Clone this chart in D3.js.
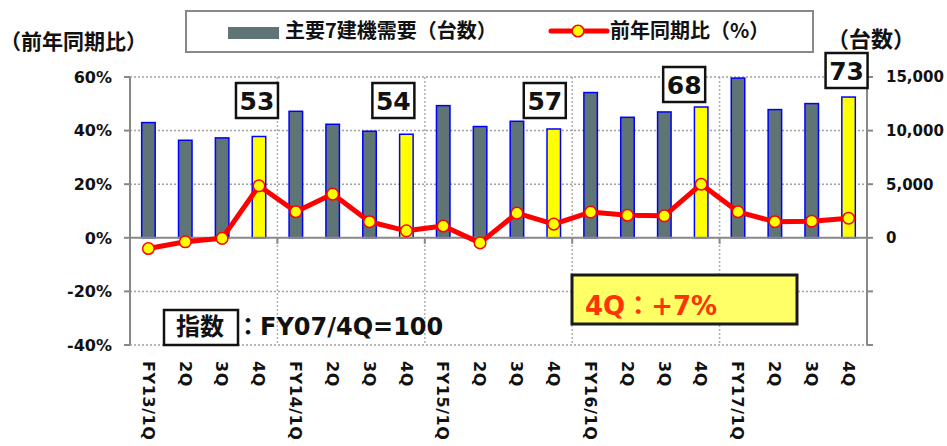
<!DOCTYPE html>
<html>
<head>
<meta charset="utf-8">
<script src="https://d3js.org/d3.v7.min.js"></script>
<style>
  body { margin: 0; background: #fff; }
  svg { display: block; }
</style>
</head>
<body>
<svg id="chart" width="947" height="446"></svg>
<script>
// quarterly demand for the 7 main construction machines + yoy change

var quarters = ["FY13/1Q","2Q","3Q","4Q","FY14/1Q","2Q ","3Q ","4Q ","FY15/1Q","2Q  ","3Q  ","4Q  ",
                "FY16/1Q","2Q   ","3Q   ","4Q   ","FY17/1Q","2Q    ","3Q    ","4Q    "];
var units = [10750, 9100, 9320, 9450, 11800, 10590, 9940, 9660, 12330, 10380, 10870, 10150,
             13550, 11240, 11740, 12200, 14900, 11960, 12520, 13130];
var yoy = [-4.0, -1.5, -0.2, 19.4, 9.7, 16.3, 6.0, 2.6, 4.4, -1.9, 9.2, 5.1,
           9.6, 8.4, 8.2, 20.0, 9.7, 6.0, 6.2, 7.3];
var indexLabels = ["53", "54", "57", "68", "73"];   // sits over each 4Q bar
var leftTicks = [-40, -20, 0, 20, 40, 60];
var rightTicks = [-10000, -5000, 0, 5000, 10000, 15000];

// hard coded layout
var plot = { left: 130, right: 867, top: 77, bottom: 345 };
var barCol = "#5f7474";
var latin = "'DejaVu Sans', 'Noto Sans CJK JP', sans-serif";
var cjk = "'Noto Sans CJK JP', sans-serif";
var boxPos = [ { dx: -2, top: 83 }, { dx: -13, top: 83 }, { dx: -9, top: 83 },
               { dx: -17, top: 67 }, { dx: -2, top: 53 } ];

var svg = d3.select("#chart");

var x = d3.scaleBand().domain(quarters).range([plot.left, plot.right]).padding(0);
var yL = d3.scaleLinear().domain([-40, 60]).range([plot.bottom, plot.top]);
var yR = d3.scaleLinear().domain([-10000, 15000]).range([plot.bottom, plot.top]);
var cx = function(i) { return x(quarters[i]) + x.bandwidth()/2; };

// dotted grid lines
leftTicks.filter(function(t) { return t != 0; }).forEach(function(t) {
        svg.append("line")
                .attr("x1", plot.left).attr("x2", plot.right)
                .attr("y1", yL(t)).attr("y2", yL(t))
                .attr("stroke", "#a0a0a0").attr("stroke-width", 1.5)
                .attr("stroke-dasharray", "2,2");
});
[4, 8, 12, 16].forEach(function(i) {
        svg.append("line")
                .attr("x1", x(quarters[i])).attr("x2", x(quarters[i]))
                .attr("y1", plot.top).attr("y2", plot.bottom)
                .attr("stroke", "#b0b0b0").attr("stroke-width", 1.5)
                .attr("stroke-dasharray", "2,2");
});

// bars
svg.selectAll(".bar").data(units).enter().append("rect")
        .attr("class", "bar")
        .attr("x", function(d, i) { return cx(i) - 6.75; })
        .attr("y", function(d) { return yR(d); })
        .attr("width", 13.5)
        .attr("height", function(d) { return yR(0) - yR(d); })
        .attr("fill", function(d, i) { return i % 4 == 3 ? "#ffff00" : barCol; })
        .attr("stroke", "#0000ff")
        .attr("stroke-width", 1.5);

// axes
var axisCol = "#888888";
svg.append("line").attr("x1", plot.left).attr("x2", plot.right)
        .attr("y1", yL(0)).attr("y2", yL(0))
        .attr("stroke", axisCol).attr("stroke-width", 2);
svg.append("line").attr("x1", plot.left).attr("x2", plot.left)
        .attr("y1", plot.top).attr("y2", plot.bottom)
        .attr("stroke", axisCol).attr("stroke-width", 2);
svg.append("line").attr("x1", plot.right).attr("x2", plot.right)
        .attr("y1", plot.top).attr("y2", plot.bottom)
        .attr("stroke", axisCol).attr("stroke-width", 2);

leftTicks.forEach(function(t) {
        svg.append("line").attr("x1", plot.left - 6).attr("x2", plot.left)
                .attr("y1", yL(t)).attr("y2", yL(t))
                .attr("stroke", axisCol).attr("stroke-width", 2);
        svg.append("text")
                .attr("x", 112).attr("y", yL(t))
                .attr("dy", "0.36em")
                .attr("text-anchor", "end")
                .attr("font-family", latin).attr("font-weight", "bold")
                .attr("font-size", "16px").attr("fill", "#111")
                .text(t + "%");
});
rightTicks.forEach(function(t) {
        svg.append("line").attr("x1", plot.right).attr("x2", plot.right + 6)
                .attr("y1", yR(t)).attr("y2", yR(t))
                .attr("stroke", axisCol).attr("stroke-width", 2);
        if(t >= 0)
                svg.append("text")
                        .attr("x", 886).attr("y", yR(t))
                        .attr("dy", "0.36em")
                        .attr("font-family", latin).attr("font-weight", "bold")
                        .attr("font-size", "15px").attr("fill", "#111")
                        .text(d3.format(",")(t));
});
[4, 8, 12, 16].forEach(function(i) {
        svg.append("line").attr("x1", x(quarters[i])).attr("x2", x(quarters[i]))
                .attr("y1", yL(0)).attr("y2", yL(0) + 6)
                .attr("stroke", axisCol).attr("stroke-width", 2);
});

// category labels, rotated to read downward
quarters.forEach(function(q, i) {
        svg.append("text")
                .attr("transform", "translate(" + cx(i) + ",361) rotate(90)")
                .attr("dy", "0.36em")
                .attr("font-family", latin).attr("font-weight", "bold")
                .attr("font-size", "16px").attr("fill", "#111")
                .attr("letter-spacing", "0.6px")
                .text(q.trim());
});

// yoy line
var line = d3.line().x(function(d, i) { return cx(i); }).y(function(d) { return yL(d); });
svg.append("path").datum(yoy)
        .attr("d", line)
        .attr("fill", "none")
        .attr("stroke", "#ff0000")
        .attr("stroke-width", 5)
        .attr("stroke-linejoin", "round");
svg.selectAll(".dot").data(yoy).enter().append("circle")
        .attr("class", "dot")
        .attr("cx", function(d, i) { return cx(i); })
        .attr("cy", function(d) { return yL(d); })
        .attr("r", 5.8)
        .attr("fill", "#ffff00")
        .attr("stroke", "#ff0000")
        .attr("stroke-width", 1.5);

// index boxes over the 4Q bars
indexLabels.forEach(function(lbl, k) {
        var bx = cx(k*4 + 3) + boxPos[k].dx;
        svg.append("rect")
                .attr("x", bx - 21).attr("y", boxPos[k].top)
                .attr("width", 42).attr("height", 35)
                .attr("fill", "#fff").attr("stroke", "#111").attr("stroke-width", 2.5);
        svg.append("text")
                .attr("x", bx).attr("y", boxPos[k].top + 17.5)
                .attr("dy", "0.36em").attr("text-anchor", "middle")
                .attr("font-family", latin).attr("font-weight", "bold")
                .attr("font-size", "25px").attr("fill", "#111")
                .text(lbl);
});

// legend
svg.append("rect").attr("x", 186).attr("y", 11).attr("width", 627).attr("height", 41)
        .attr("fill", "#fff").attr("stroke", "#888").attr("stroke-width", 2);
svg.append("rect").attr("x", 228).attr("y", 27).attr("width", 51).attr("height", 12)
        .attr("fill", barCol);
svg.append("text").attr("x", 285).attr("y", 38)
        .attr("font-family", cjk).attr("font-weight", "bold")
        .attr("font-size", "20px").attr("fill", "#111")
        .text("主要7建機需要（台数）");
svg.append("line").attr("x1", 551).attr("x2", 607).attr("y1", 31).attr("y2", 31)
        .attr("stroke", "#ff0000").attr("stroke-width", 5).attr("stroke-linecap", "round");
svg.append("circle").attr("cx", 578).attr("cy", 31).attr("r", 5.8)
        .attr("fill", "#ffff00").attr("stroke", "#ff0000").attr("stroke-width", 1.5);
svg.append("text").attr("x", 610).attr("y", 38)
        .attr("font-family", cjk).attr("font-weight", "bold")
        .attr("font-size", "20px").attr("fill", "#111")
        .text("前年同期比（%）");

// axis titles
svg.append("text").attr("x", 0).attr("y", 49)
        .attr("font-family", cjk).attr("font-weight", "bold")
        .attr("font-size", "21px").attr("fill", "#111")
        .text("（前年同期比）");
svg.append("text").attr("x", 827).attr("y", 47)
        .attr("font-family", cjk).attr("font-weight", "bold")
        .attr("font-size", "22px").attr("fill", "#111")
        .text("（台数）");

// index note
svg.append("rect").attr("x", 164).attr("y", 310).attr("width", 74).attr("height", 35)
        .attr("fill", "#fff").attr("stroke", "#111").attr("stroke-width", 2.5);
svg.append("text").attr("x", 200).attr("y", 335).attr("text-anchor", "middle")
        .attr("font-family", cjk).attr("font-weight", "bold")
        .attr("font-size", "24px").attr("fill", "#111")
        .text("指数");
svg.append("text").attr("x", 236).attr("y", 335)
        .attr("font-family", latin).attr("font-weight", "bold")
        .attr("font-size", "24px").attr("fill", "#111")
        .text("：FY07/4Q=100");

// 4Q callout
svg.append("rect").attr("x", 572).attr("y", 275).attr("width", 225).attr("height", 49)
        .attr("fill", "#ffff66").attr("stroke", "#1a1a1a").attr("stroke-width", 3);
svg.append("text").attr("x", 585).attr("y", 315)
        .attr("font-family", latin).attr("font-weight", "bold")
        .attr("font-size", "26px").attr("fill", "#ff3300")
        .text("4Q：+7%");
</script>
</body>
</html>
